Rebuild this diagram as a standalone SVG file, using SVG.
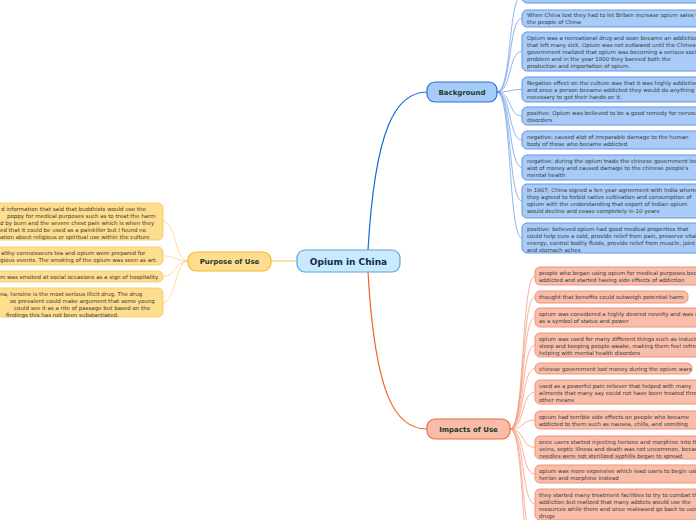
<svg xmlns="http://www.w3.org/2000/svg" width="696" height="520" viewBox="0 0 696 520">
<style>
text{font-family:"DejaVu Sans","Verdana",sans-serif}
.leaf{font-size:5.5px;fill:#3a3a3a}
.head{font-size:7px;font-weight:bold;fill:#1d3b2c;text-anchor:middle}
.root{font-size:9px;font-weight:bold;fill:#0f2a4a;text-anchor:middle}
.bl{fill:#a8cbf8;stroke:#5e96e6;stroke-width:1}
.or{fill:#f8bea9;stroke:#f29272;stroke-width:1}
.ye{fill:#fedd8e;stroke:#f9cd6a;stroke-width:1}
.cb{fill:none;stroke:#1a68da;stroke-width:1.2}
.co{fill:none;stroke:#f2602e;stroke-width:1.2}
.cy{fill:none;stroke:#f7c548;stroke-width:1}
.fb{fill:none;stroke:#5e96e6;stroke-width:0.7}
.fo{fill:none;stroke:#f29272;stroke-width:0.7}
.fy{fill:none;stroke:#f9cd6a;stroke-width:0.7}
</style>
<rect width="696" height="520" fill="#ffffff"/>
<g id="connectors">
<path class="cb" d="M368,250 C375,130 395,92 427,92"/>
<path class="co" d="M368,272 C375,395 395,429 427,429"/>
<path class="cy" d="M297,261 L271,261"/>
<path class="fb" d="M497,92 C512,92 508,-5 522,-5"/>
<path class="fb" d="M497,92 C512,92 508,18.5 522,18.5"/>
<path class="fb" d="M497,92 C512,92 508,51.5 522,51.5"/>
<path class="fb" d="M497,92 C512,92 508,89.5 522,89.5"/>
<path class="fb" d="M497,92 C512,92 508,116 522,116"/>
<path class="fb" d="M497,92 C512,92 508,140 522,140"/>
<path class="fb" d="M497,92 C512,92 508,167.5 522,167.5"/>
<path class="fb" d="M497,92 C512,92 508,201 522,201"/>
<path class="fb" d="M497,92 C512,92 508,238 522,238"/>
<path class="fo" d="M510,429 C525,429 521,276 535,276"/>
<path class="fo" d="M510,429 C525,429 521,297 535,297"/>
<path class="fo" d="M510,429 C525,429 521,317.5 535,317.5"/>
<path class="fo" d="M510,429 C525,429 521,345 535,345"/>
<path class="fo" d="M510,429 C525,429 521,368.5 535,368.5"/>
<path class="fo" d="M510,429 C525,429 521,392 535,392"/>
<path class="fo" d="M510,429 C525,429 521,420 535,420"/>
<path class="fo" d="M510,429 C525,429 521,447.5 535,447.5"/>
<path class="fo" d="M510,429 C525,429 521,474 535,474"/>
<path class="fo" d="M510,429 C525,429 521,504 535,504"/>
<path class="fo" d="M510,429 C525,429 521,545 535,545"/>
<path class="fo" d="M510,429 C525,429 521,580 535,580"/>
<path class="fy" d="M188,261 C175,261 176,221.5 163,221.5"/>
<path class="fy" d="M188,261 C175,261 176,256 163,256"/>
<path class="fy" d="M188,261 C175,261 176,276.5 163,276.5"/>
<path class="fy" d="M188,261 C175,261 176,302.5 163,302.5"/>
</g>
<g id="root">
<rect x="297" y="250" width="103" height="22" rx="8" fill="#c8eafc" stroke="#5aa4de" stroke-width="1.2"/>
<text class="root" x="348.5" y="264.5">Opium in China</text>
</g>
<g id="background">
<rect x="427" y="82" width="70" height="20" rx="8" fill="#a6cbf9" stroke="#2a70d8" stroke-width="1.2"/>
<text class="head" x="462" y="94.5">Background</text>
</g>
<g id="purpose">
<rect x="188" y="252" width="83" height="19" rx="8" fill="#fedd8e" stroke="#f5b934" stroke-width="1.2"/>
<text class="head" x="229.5" y="264">Purpose of Use</text>
</g>
<g id="impacts">
<rect x="427" y="419" width="83" height="20" rx="8" fill="#f8bca8" stroke="#f06a3a" stroke-width="1.2"/>
<text class="head" x="468.5" y="431.5">Impacts of Use</text>
</g>
<g id="b1"><rect class="bl" x="522" y="-20" width="200" height="23" rx="5"/></g>
<g id="b2"><rect class="bl" x="522" y="10" width="200" height="17" rx="5"/>
<text class="leaf" x="527" y="17"><tspan x="527">When China lost they had to let Britain increase opium sales to</tspan><tspan x="527" dy="7">the people of China</tspan></text></g>
<g id="b3"><rect class="bl" x="522" y="32" width="200" height="39" rx="5"/>
<text class="leaf" x="527" y="39.5"><tspan x="527">Opium was a recreational drug and soon became an addiction</tspan><tspan x="527" dy="7">that left many sick. Opium was not outlawed until the Chinese</tspan><tspan x="527" dy="7">government realized that opium was becoming a serious social</tspan><tspan x="527" dy="7">problem and in the year 1800 they banned both the</tspan><tspan x="527" dy="7">production and importation of opium.</tspan></text></g>
<g id="b4"><rect class="bl" x="522" y="77" width="200" height="25" rx="5"/>
<text class="leaf" x="527" y="84.5"><tspan x="527">Negative effect on the culture was that it was highly addictive</tspan><tspan x="527" dy="7">and once a person became addicted they would do anything</tspan><tspan x="527" dy="7">necessary to get their hands on it.</tspan></text></g>
<g id="b5"><rect class="bl" x="522" y="107" width="200" height="18" rx="5"/>
<text class="leaf" x="527" y="114.5"><tspan x="527">positive: Opium was believed to be a good remedy for nervous</tspan><tspan x="527" dy="7">disorders</tspan></text></g>
<g id="b6"><rect class="bl" x="522" y="131" width="200" height="18" rx="5"/>
<text class="leaf" x="527" y="138.5"><tspan x="527">negative: caused alot of irreparable damage to the human</tspan><tspan x="527" dy="7">body of those who became addicted</tspan></text></g>
<g id="b7"><rect class="bl" x="522" y="155" width="200" height="25" rx="5"/>
<text class="leaf" x="527" y="162.5"><tspan x="527">negative: during the opium trade the chinese government lost</tspan><tspan x="527" dy="7">alot of money and caused damage to the chinese people's</tspan><tspan x="527" dy="7">mental health</tspan></text></g>
<g id="b8"><rect class="bl" x="522" y="184" width="200" height="34" rx="5"/>
<text class="leaf" x="527" y="192"><tspan x="527">In 1907, China signed a ten year agreement with India where</tspan><tspan x="527" dy="7">they agreed to forbid native cultivation and consumption of</tspan><tspan x="527" dy="7">opium with the understanding that export of Indian opium</tspan><tspan x="527" dy="7">would decline and cease completely in 10 years</tspan></text></g>
<g id="b9"><rect class="bl" x="522" y="223" width="200" height="30" rx="5"/>
<text class="leaf" x="527" y="230.5"><tspan x="527">positive: believed opium had good medical properties that</tspan><tspan x="527" dy="7">could help cure a cold, provide relief from pain, preserve vital</tspan><tspan x="527" dy="7">energy, control bodily fluids, provide relief from muscle, joint</tspan><tspan x="527" dy="7">and stomach aches</tspan></text></g>
<g id="o1"><rect class="or" x="535" y="267" width="190" height="18" rx="5"/>
<text class="leaf" x="539" y="274.5"><tspan x="539">people who began using opium for medical purposes became</tspan><tspan x="539" dy="7">addicted and started having side effects of addiction</tspan></text></g>
<g id="o2"><rect class="or" x="535" y="291" width="153" height="12" rx="5"/>
<text class="leaf" x="539" y="299">thought that benefits could outweigh potential harm</text></g>
<g id="o3"><rect class="or" x="535" y="308" width="190" height="19" rx="5"/>
<text class="leaf" x="539" y="315.5"><tspan x="539">opium was considered a highly desired novelty and was seen</tspan><tspan x="539" dy="7">as a symbol of status and power</tspan></text></g>
<g id="o4"><rect class="or" x="535" y="333" width="190" height="24" rx="5"/>
<text class="leaf" x="539" y="340.5"><tspan x="539">opium was used for many different things such as inducing</tspan><tspan x="539" dy="7">sleep and keeping people awake, making them feel refreshed,</tspan><tspan x="539" dy="7">helping with mental health disorders</tspan></text></g>
<g id="o5"><rect class="or" x="535" y="363" width="157" height="11" rx="5"/>
<text class="leaf" x="539" y="370.5">chinese government lost money during the opium wars</text></g>
<g id="o6"><rect class="or" x="535" y="380" width="190" height="24" rx="5"/>
<text class="leaf" x="539" y="387.5"><tspan x="539">used as a powerful pain reliever that helped with many</tspan><tspan x="539" dy="7">ailments that many say could not have been treated through</tspan><tspan x="539" dy="7">other means</tspan></text></g>
<g id="o7"><rect class="or" x="535" y="411" width="190" height="18" rx="5"/>
<text class="leaf" x="539" y="418.5"><tspan x="539">opium had terrible side effects on people who became</tspan><tspan x="539" dy="7">addicted to them such as nausea, chills, and vomiting</tspan></text></g>
<g id="o8"><rect class="or" x="535" y="436" width="190" height="23" rx="5"/>
<text class="leaf" x="539" y="443.5"><tspan x="539">once users started injecting herione and morphine into their</tspan><tspan x="539" dy="7">veins, septic illness and death was not uncommon, because</tspan><tspan x="539" dy="7">needles were not sterilized syphilis began to spread</tspan></text></g>
<g id="o9"><rect class="or" x="535" y="465" width="190" height="18" rx="5"/>
<text class="leaf" x="539" y="472.5"><tspan x="539">opium was more expensive which lead users to begin using</tspan><tspan x="539" dy="7">herion and morphine instead</tspan></text></g>
<g id="o10"><rect class="or" x="535" y="489" width="190" height="31" rx="5"/>
<text class="leaf" x="539" y="496.5"><tspan x="539">they started many treatment facilities to try to combat the</tspan><tspan x="539" dy="7">addiction but realized that many addicts would use the</tspan><tspan x="539" dy="7">resources while there and once realeased go back to using</tspan><tspan x="539" dy="7">drugs</tspan></text></g>
<g id="y1"><rect class="ye" x="-20" y="203" width="183" height="37" rx="5"/>
<text class="leaf" y="211"><tspan x="1">d information that said that buddhists would use the</tspan><tspan x="7" dy="7">poppy for medical purposes such as to treat the harm</tspan><tspan x="0" dy="7">d by burn and the severe chest pain which is when they</tspan><tspan x="0" dy="7">ed that it could be used as a painkiller but I found no</tspan><tspan x="0" dy="7">ation about religious or spiritual use within the culture</tspan></text></g>
<g id="y2"><rect class="ye" x="-20" y="247" width="183" height="18" rx="5"/>
<text class="leaf" y="254.5"><tspan x="1">althy connoisseurs tea and opium were prepared for</tspan><tspan x="0" dy="7">gious events. The smoking of the opium was seen as art.</tspan></text></g>
<g id="y3"><rect class="ye" x="-20" y="271" width="183" height="11" rx="5"/>
<text class="leaf" x="0" y="278.5">m was smoked at social occasions as a sign of hospitality</text></g>
<g id="y4"><rect class="ye" x="-20" y="288" width="183" height="29" rx="5"/>
<text class="leaf" y="295.5"><tspan x="0">na, heroine is the most serious illicit drug. The drug</tspan><tspan x="10" dy="7">so prevalent could make argument that some young</tspan><tspan x="14" dy="7">could see it as a rite of passage but based on the</tspan><tspan x="6" dy="7">findings this has not been substantiated.</tspan></text></g>
</svg>
